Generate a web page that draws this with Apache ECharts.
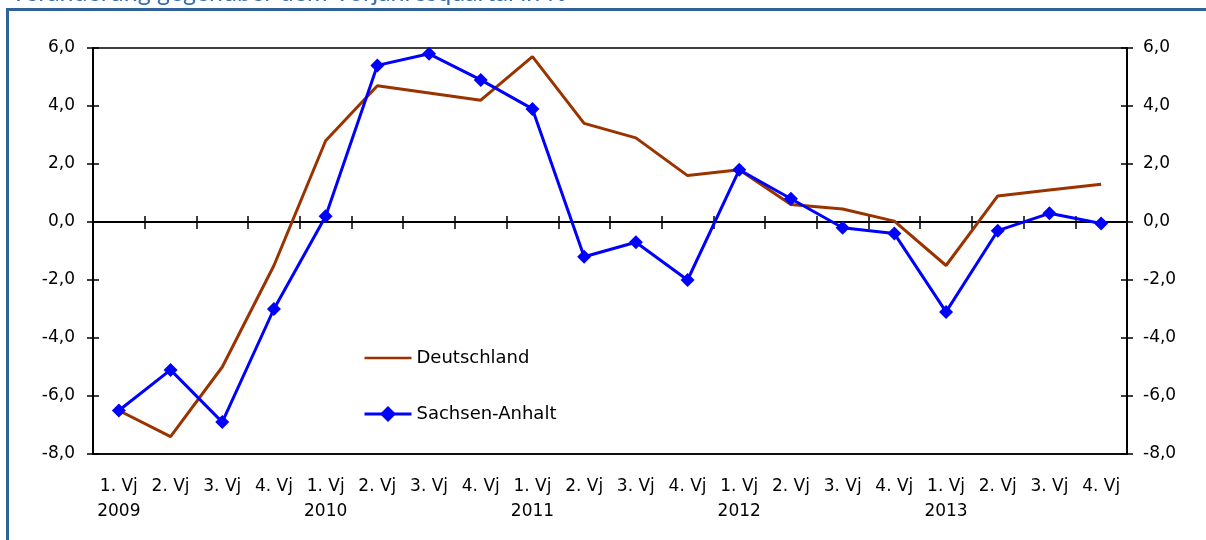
<!DOCTYPE html>
<html>
<head>
<meta charset="utf-8">
<script src="https://cdn.jsdelivr.net/npm/echarts@6/dist/echarts.min.js"></script>
<style>
html,body{margin:0;padding:0;background:#fff;}
#c{width:1206px;height:540px;}
</style>
</head>
<body>
<div id="c"></div>
<script>
const quarters = ['1. Vj','2. Vj','3. Vj','4. Vj','1. Vj','2. Vj','3. Vj','4. Vj','1. Vj','2. Vj','3. Vj','4. Vj','1. Vj','2. Vj','3. Vj','4. Vj','1. Vj','2. Vj','3. Vj','4. Vj'];
const years = ['2009','','','','2010','','','','2011','','','','2012','','','','2013','','',''];
const deutschland = [-6.5,-7.4,-5.0,-1.5,2.8,4.7,4.45,4.2,5.7,3.4,2.9,1.6,1.8,0.6,0.45,0.03,-1.5,0.9,1.1,1.3];
const sachsenAnhalt = [-6.5,-5.1,-6.9,-3.0,0.2,5.4,5.8,4.9,3.9,-1.2,-0.7,-2.0,1.8,0.8,-0.2,-0.4,-3.1,-0.3,0.3,-0.05];
const yTicks = {min:-8, max:6, interval:2};
const titleText = 'Veränderung gegenüber dem Vorjahresquartal in %';

const FONT = 'DejaVu Sans';
const catLabels = quarters.map((q,i)=> years[i] ? q + '\n' + years[i] : q + '\n ');
const fmt = v => v.toFixed(1).replace('.', ',');

const chart = echarts.init(document.getElementById('c'), null, {renderer:'canvas'});
const axisLineStyle = {color:'#000', width:2};
const yBase = {
  type:'value', min:yTicks.min, max:yTicks.max, interval:yTicks.interval,
  splitLine:{show:false}
};
chart.setOption({
  animation:false,
  backgroundColor:'#fff',
  graphic:[
    {type:'rect', shape:{x:7.5, y:9.5, width:1400, height:700}, style:{fill:'none', stroke:'#2F6299', lineWidth:3}, silent:true},
    {type:'text', x:10, y:5, style:{text:titleText, fill:'#3A6FAE', font:'25px Lato', verticalAlign:'bottom', align:'left'}, silent:true}
  ],
  grid:{left:93, right:79, top:48, bottom:86, show:true, borderColor:'#000', borderWidth:1.5, backgroundColor:'transparent'},
  legend:{
    orient:'vertical', left:358, top:342, itemGap:34, itemWidth:47, itemHeight:20,
    textStyle:{fontFamily:FONT, fontSize:18, color:'#000', lineHeight:22},
    data:[
      {name:'Deutschland', icon:'path://M0,0 M47,20 M0,8.75 L47,8.75 L47,11.25 L0,11.25 Z', itemStyle:{color:'#993300'}},
      {name:'Sachsen-Anhalt', lineStyle:{width:3, color:'#0000FF'}}
    ]
  },
  xAxis:[
    {type:'category', data:catLabels, position:'bottom', boundaryGap:true,
     axisLine:{onZero:false, show:true, lineStyle:{color:'#000', width:1.5}},
     axisTick:{show:false},
     axisLabel:{interval:0, margin:20, fontFamily:FONT, fontSize:17, color:'#000', lineHeight:25}},
    {type:'category', data:catLabels, position:'bottom', boundaryGap:true,
     axisLine:{onZero:true, onZeroAxisIndex:0, show:true, lineStyle:axisLineStyle},
     axisTick:{show:true, interval:0, length:7, inside:false, lineStyle:{color:'#000', width:1.5}},
     axisLabel:{show:false}},
    {type:'category', data:catLabels, position:'bottom', boundaryGap:true,
     axisLine:{onZero:true, onZeroAxisIndex:0, show:false},
     axisTick:{show:true, interval:0, length:6, inside:true, lineStyle:{color:'#000', width:1.5}},
     axisLabel:{show:false}}
  ],
  yAxis:[
    Object.assign({}, yBase, {position:'left',
      axisLine:{show:true, lineStyle:axisLineStyle},
      axisTick:{show:true, length:6, inside:false, lineStyle:{color:'#000', width:1.5}},
      axisLabel:{formatter:fmt, margin:18, fontFamily:FONT, fontSize:17, color:'#000'}}),
    Object.assign({}, yBase, {position:'left',
      axisLine:{show:false},
      axisTick:{show:true, length:6, inside:true, lineStyle:{color:'#000', width:1.5}},
      axisLabel:{show:false}}),
    Object.assign({}, yBase, {position:'right',
      axisLine:{show:true, lineStyle:axisLineStyle},
      axisTick:{show:true, length:6, inside:false, lineStyle:{color:'#000', width:1.5}},
      axisLabel:{formatter:fmt, margin:16, fontFamily:FONT, fontSize:17, color:'#000'}}),
    Object.assign({}, yBase, {position:'right',
      axisLine:{show:false},
      axisTick:{show:true, length:6, inside:true, lineStyle:{color:'#000', width:1.5}},
      axisLabel:{show:false}})
  ],
  series:[
    {name:'Deutschland', type:'line', data:deutschland, xAxisIndex:0, yAxisIndex:0,
     symbol:'none', lineStyle:{color:'#993300', width:3}, itemStyle:{color:'#993300'}, z:3},
    {name:'Sachsen-Anhalt', type:'line', data:sachsenAnhalt, xAxisIndex:0, yAxisIndex:0,
     symbol:'diamond', symbolSize:14, showAllSymbol:true,
     lineStyle:{color:'#0000FF', width:3}, itemStyle:{color:'#0000FF'}, z:4}
  ]
});
</script>
</body>
</html>
